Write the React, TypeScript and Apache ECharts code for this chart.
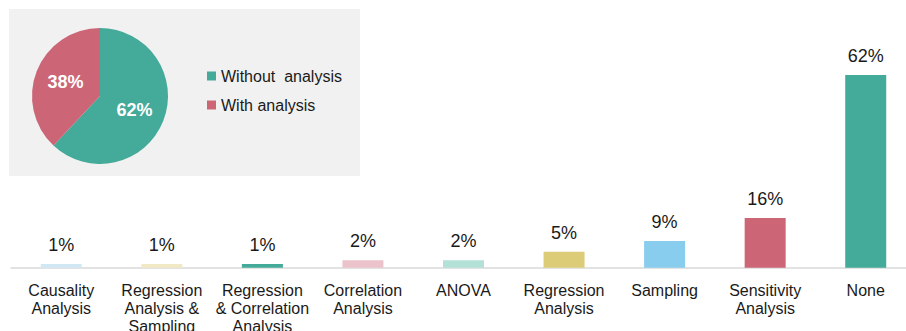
import React, { useEffect, useRef } from "react";
import * as echarts from "echarts";

const categories = [
  "Causality\nAnalysis",
  "Regression\nAnalysis &\nSampling",
  "Regression\n& Correlation\nAnalysis",
  "Correlation\nAnalysis",
  "ANOVA",
  "Regression\nAnalysis",
  "Sampling",
  "Sensitivity\nAnalysis",
  "None",
];
const barValues = [1.2, 1.2, 1.2, 2.4, 2.4, 5.1, 8.6, 16, 62];
const barLabels = ["1%", "1%", "1%", "2%", "2%", "5%", "9%", "16%", "62%"];
const barColors = [
  "#cfe8f4",
  "#f1e9c6",
  "#44aa99",
  "#ebc3ca",
  "#b3e0d7",
  "#ddcc77",
  "#88ccee",
  "#cc6677",
  "#44aa99",
];

const pieNames = ["Without  analysis", "With analysis"];
const pieValues = [62, 38];
const pieColors = ["#44aa99", "#cc6677"];

export default function App() {
  const ref = useRef<HTMLDivElement>(null);
  useEffect(() => {
    if (!ref.current) return;
    const chart = echarts.init(ref.current, undefined, { renderer: "svg" });
    const font = "Liberation Sans, Arial, sans-serif";
    chart.setOption({
      animation: false,
      textStyle: { fontFamily: font },
      graphic: [
        {
          type: "rect",
          z: -10,
          silent: true,
          shape: { x: 9, y: 9, width: 351, height: 167 },
          style: { fill: "#f1f1f1" },
        },
      ],
      legend: {
        orient: "vertical",
        left: 202,
        top: 63,
        itemWidth: 9,
        itemHeight: 9,
        itemGap: 13,
        itemTextGap: 4,
        icon: "rect",
        data: pieNames,
        textStyle: { fontSize: 16, color: "#1a1a1a", fontFamily: font },
      },
      grid: { left: 11, right: 0, top: 50, bottom: 63.3, containLabel: false, outerBoundsMode: "none" },
      xAxis: {
        type: "category",
        data: categories,
        axisLine: { lineStyle: { color: "#d9d9d9", width: 1.5 } },
        axisTick: { show: false },
        axisLabel: {
          interval: 0,
          fontSize: 16,
          lineHeight: 18,
          color: "#1a1a1a",
          margin: 14,
          fontFamily: font,
        },
      },
      yAxis: { type: "value", min: 0, max: 70, show: false, splitLine: { show: false } },
      series: [
        {
          type: "bar",
          barWidth: 41,
          data: barValues.map((v, i) => ({ value: v, itemStyle: { color: barColors[i] } })),
          label: {
            show: true,
            position: "top",
            distance: 10,
            fontSize: 18,
            color: "#1a1a1a",
            fontFamily: font,
            formatter: (p: any) => barLabels[p.dataIndex],
          },
        },
        {
          type: "pie",
          center: [100, 96],
          radius: [0, 68],
          startAngle: 90,
          clockwise: true,
          data: pieNames.map((n, i) => ({
            name: n,
            value: pieValues[i],
            itemStyle: { color: pieColors[i] },
          })),
          label: {
            show: true,
            position: "inside",
            formatter: "{c}%",
            color: "#ffffff",
            fontSize: 18,
            fontWeight: "bold",
            fontFamily: font,
          },
          labelLine: { show: false },
          emphasis: { disabled: true },
        },
      ],
    });
    return () => chart.dispose();
  }, []);
  return (
    <div style={{ position: "fixed", left: 0, top: 0, width: 906, height: 331, overflow: "hidden", background: "#ffffff" }}>
      <div ref={ref} style={{ width: 916, height: 331 }} />
    </div>
  );
}
